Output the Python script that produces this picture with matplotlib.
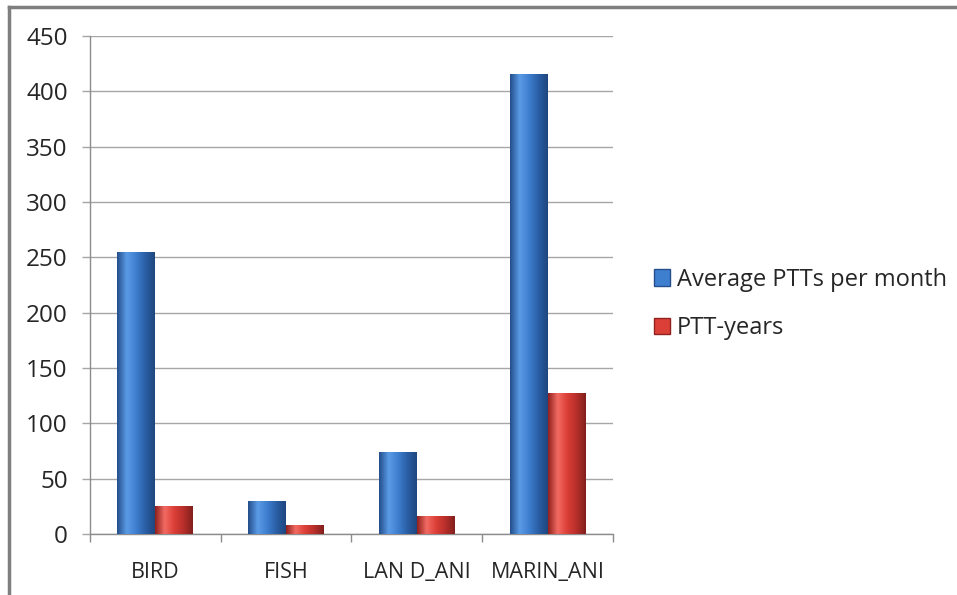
import numpy as np
import matplotlib
matplotlib.use('Agg')
import matplotlib.pyplot as plt
from matplotlib.patches import Patch
from matplotlib.lines import Line2D
from matplotlib.colors import LinearSegmentedColormap

plt.rcParams['font.family'] = ['Open Sans', 'DejaVu Sans']

# data
categories = ['BIRD', 'FISH', 'LAN D_ANI', 'MARIN_ANI']
avg_ptts = [255, 30, 74, 416]
ptt_years = [25, 8, 16, 127]
series_names = ['Average PTTs per month', 'PTT-years']
yticks = [0, 50, 100, 150, 200, 250, 300, 350, 400, 450]

# cylinder-ish shading colours (dark edge, light, mid, dark edge)
blue_shades = ['#244f8c', '#5b9be6', '#3f7fd0', '#2a5fa6', '#1f4780']
red_shades = ['#92221f', '#f26b62', '#dc3f38', '#b82f2b', '#82201d']

fig = plt.figure(figsize=(9.57, 5.95), dpi=100)
ax = fig.add_axes([0.094, 0.1025, 0.5465, 0.837])

x = np.arange(len(categories))
w = 0.29


def shaded_bars(xpos, vals, shades):
    bars = ax.bar(xpos, vals, width=w, color=shades[2], edgecolor='none', zorder=3)
    cmap = LinearSegmentedColormap.from_list('c', shades)
    grad = np.linspace(0, 1, 64).reshape(1, -1)
    for b in bars:
        x0, y0 = b.get_x(), b.get_y()
        im = ax.imshow(grad, cmap=cmap, aspect='auto', zorder=3.5,
                       extent=[x0, x0 + b.get_width(), y0, y0 + b.get_height()])
        im.set_clip_path(b)
    return bars


shaded_bars(x - w / 2, avg_ptts, blue_shades)
shaded_bars(x + w / 2, ptt_years, red_shades)

ax.set_xlim(-0.5, len(categories) - 0.5)
ax.set_ylim(0, 450)
ax.set_yticks(yticks)
ax.yaxis.grid(True, color='#a6a6a6', linewidth=1.0, zorder=0)
ax.set_axisbelow(True)

ax.set_xticks(x)
ax.set_xticklabels(categories)
ax.set_xticks(np.arange(-0.5, len(categories)), minor=True)
ax.tick_params(axis='x', which='major', length=0, pad=20, labelsize=15.5, colors='#262626')
ax.tick_params(axis='x', which='minor', length=6, color='#8c8c8c', width=1)
ax.tick_params(axis='y', length=6, color='#a6a6a6', width=1, pad=10, labelsize=17.5, colors='#262626')

for s in ['top', 'right']:
    ax.spines[s].set_visible(False)
for s in ['left', 'bottom']:
    ax.spines[s].set_color('#8c8c8c')
    ax.spines[s].set_linewidth(1)

handles = [Patch(facecolor=blue_shades[2], edgecolor=blue_shades[0]),
           Patch(facecolor=red_shades[2], edgecolor=red_shades[0])]
fig.legend(handles, series_names, loc='center left', bbox_to_anchor=(0.683, 0.489),
           frameon=False, fontsize=17, handlelength=0.68, handleheight=0.68,
           handletextpad=0.3, labelspacing=1.03, borderaxespad=0, borderpad=0,
           labelcolor='#262626')

# outer chart frame (left and top edges visible)
fig.add_artist(Line2D([0.0095, 0.0095], [0, 0.989], transform=fig.transFigure,
                      color='#7f7f7f', linewidth=2.5))
fig.add_artist(Line2D([0.0095, 1.0], [0.989, 0.989], transform=fig.transFigure,
                      color='#7f7f7f', linewidth=2.5))

fig.savefig('out.png', dpi=100)
